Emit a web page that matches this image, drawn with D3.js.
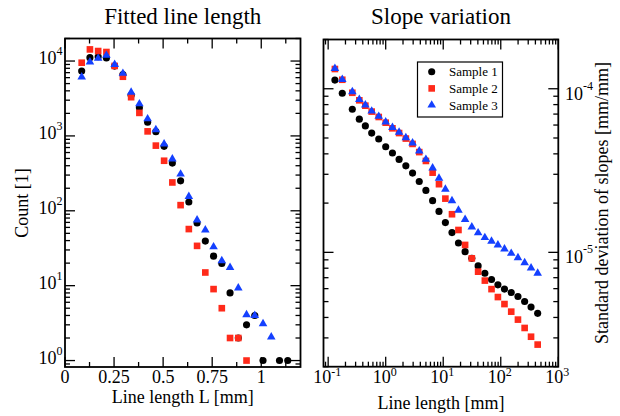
<!DOCTYPE html>
<html>
<head>
<meta charset="utf-8">
<script src="https://cdn.jsdelivr.net/npm/d3@7"></script>
<style>
  body { margin: 0; background: #fff; }
  svg { display: block; font-family: "Liberation Serif", "Times New Roman", serif; }
</style>
</head>
<body>
<svg id="chart" width="620" height="416"></svg>
<script>
/* ===============================
   Data
================================ */

// left panel: fitted line length histogram
const lenBins = [0.085, 0.127, 0.169, 0.211, 0.253, 0.295, 0.337, 0.379, 0.421, 0.463,
                 0.505, 0.547, 0.589, 0.631, 0.673, 0.715, 0.757, 0.799, 0.841, 0.883,
                 0.925, 0.967, 1.009, 1.051, 1.093, 1.135];
const countS1 = [7350, 11100, 11400, 11000, 8570, 6620, 3500, 2370, 1520, 1140,
                 726, 434, 251, 131, 68.7, 39.4, 24.8, 19.8, 8.0, 2.0,
                 3.0, 4.0, 1, null, 1, 1];
const countS2 = [9500, 14300, 13600, 13200, 8600, 6170, 3290, 2030, 1150, 742,
                 466, 239, 119, 57, 34, 15, 9.0, 5.0, 2.0, 2.0, 1.0];
const countS3 = [6110, 9700, 10860, 11900, 9020, 6840, 3840, 2680, 1690, 1210,
                 780, 491, 309, 155, 75.5, 55.5, 33, 21.5, 17.5, 9.3,
                 4.1, 4.0, 3.1, 2.06];

// right panel: slope variation vs line length
const slopeLen = [0.131, 0.176, 0.263, 0.348, 0.443, 0.571, 0.757, 1.0, 1.31, 1.71,
                  2.24, 2.93, 3.83, 5.0, 6.54, 8.44, 10.9, 14.2, 18.4, 24.0,
                  31.4, 40.4, 52.9, 69.1, 89.2, 116, 152, 199, 260, 336, 438];
const slopeS1 = [1.13e-4, 9.38e-5, 7.49e-5, 6.52e-5, 5.93e-5, 5.36e-5, 4.93e-5, 4.42e-5, 4.05e-5, 3.70e-5,
                 3.38e-5, 3.05e-5, 2.71e-5, 2.39e-5, 2.07e-5, 1.78e-5, 1.52e-5, 1.32e-5, 1.14e-5, 1.01e-5,
                 9.19e-6, 8.26e-6, 7.45e-6, 6.82e-6, 6.33e-6, 5.96e-6, 5.68e-6, 5.37e-6, 5.01e-6, 4.63e-6, 4.24e-6];
const slopeS2 = [1.32e-4, 1.135e-4, 9.45e-5, 8.5e-5, 7.88e-5, 7.25e-5, 6.72e-5, 6.2e-5, 5.73e-5, 5.36e-5,
                 4.96e-5, 4.6e-5, 4.1e-5, 3.62e-5, 3.07e-5, 2.61e-5, 2.13e-5, 1.71e-5, 1.37e-5, 1.11e-5,
                 9.19e-6, 7.62e-6, 6.72e-6, 5.96e-6, 5.33e-6, 4.83e-6, 4.34e-6, 3.88e-6, 3.45e-6, 3.05e-6, 2.73e-6];
const slopeS3 = [1.33e-4, 1.14e-4, 9.6e-5, 8.6e-5, 7.95e-5, 7.3e-5, 6.78e-5, 6.27e-5, 5.8e-5, 5.42e-5,
                 5.02e-5, 4.66e-5, 4.17e-5, 3.70e-5, 3.28e-5, 2.84e-5, 2.43e-5, 2.07e-5, 1.81e-5, 1.59e-5,
                 1.43e-5, 1.315e-5, 1.23e-5, 1.17e-5, 1.11e-5, 1.047e-5, 9.86e-6, 9.27e-6, 8.65e-6, 8.03e-6, 7.45e-6];

const seriesNames = ["Sample 1", "Sample 2", "Sample 3"];
const lenTicks = [0, 0.25, 0.5, 0.75, 1];
const lenTickLabels = ["0", "0.25", "0.5", "0.75", "1"];
const lenMinor = [0.125, 0.375, 0.625, 0.875, 1.125];

/* ===============================
   Style
================================ */

const COLORS = ["#000000", "#ff2a1a", "#1440ff"];
const SHAPES = [d3.symbolCircle, d3.symbolSquare, d3.symbolTriangle];
const SIZES = [40, 44, 32];

const svg = d3.select("#chart");

/* ===============================
   Helpers
================================ */

function logMinor(lo, hi) {
  const out = [];
  for (let e = Math.floor(Math.log10(lo)); e <= Math.ceil(Math.log10(hi)); e++) {
    for (let m = 2; m <= 9; m++) {
      const v = m * Math.pow(10, e);
      if (v >= lo * 0.999 && v <= hi * 1.001) out.push(v);
    }
  }
  return out;
}

function frameTicks(g, x, y, xMajor, xMinor, yMajor, yMinor) {
  const [x0, x1] = x.range();
  const [y0, y1] = y.range(); // y0 bottom, y1 top
  const add = (vals, len, vertical) => {
    vals.forEach(v => {
      if (vertical) {
        const px = x(v);
        g.append("line").attr("x1", px).attr("x2", px).attr("y1", y0).attr("y2", y0 - len);
        g.append("line").attr("x1", px).attr("x2", px).attr("y1", y1).attr("y2", y1 + len);
      } else {
        const py = y(v);
        g.append("line").attr("y1", py).attr("y2", py).attr("x1", x0).attr("x2", x0 + len);
        g.append("line").attr("y1", py).attr("y2", py).attr("x1", x1).attr("x2", x1 - len);
      }
    });
  };
  add(xMajor, 10, true);
  add(xMinor, 5, true);
  add(yMajor, 10, false);
  add(yMinor, 5, false);
  g.selectAll("line").attr("stroke", "#000").attr("stroke-width", 1.3);
  g.append("rect")
    .attr("x", x0).attr("y", y1)
    .attr("width", x1 - x0).attr("height", y0 - y1)
    .attr("fill", "none").attr("stroke", "#000").attr("stroke-width", 1.8);
}

function powLabel(g, px, py, exp, anchor, supDy) {
  const t = g.append("text")
    .attr("x", px).attr("y", py)
    .attr("text-anchor", anchor)
    .attr("font-size", 18);
  t.append("tspan").text("10");
  t.append("tspan").attr("font-size", 12).attr("dy", supDy).text(exp);
}

function drawSeries(g, x, y, xs, ys, i) {
  const pts = xs.map((v, k) => [v, ys[k]]).filter(d => d[1] != null && d[1] !== undefined);
  g.selectAll(null)
    .data(pts)
    .enter()
    .append("path")
    .attr("d", d3.symbol().type(SHAPES[i]).size(SIZES[i]))
    .attr("transform", d => `translate(${x(d[0])},${y(d[1])})`)
    .attr("fill", COLORS[i]);
}

/* ===============================
   Left panel
================================ */

const xL = d3.scaleLinear().domain([0, 1.2]).range([65, 300.5]);
const yL = d3.scaleLog().domain([0.82, 2e4]).range([367, 38.5]);

const left = svg.append("g");
frameTicks(left, xL, yL, lenTicks, lenMinor,
  [1, 10, 100, 1000, 10000], logMinor(0.82, 2e4));

drawSeries(left, xL, yL, lenBins, countS1, 0);
drawSeries(left, xL, yL, lenBins, countS2, 1);
drawSeries(left, xL, yL, lenBins, countS3, 2);

lenTicks.forEach((v, k) => {
  left.append("text")
    .attr("x", xL(v)).attr("y", 382.5)
    .attr("text-anchor", "middle").attr("font-size", 18)
    .text(lenTickLabels[k]);
});
[0, 1, 2, 3, 4].forEach(e => powLabel(left, 62.5, yL(Math.pow(10, e)) + 3, String(e), "end", -9));

left.append("text")
  .attr("x", (65 + 300.5) / 2).attr("y", 24)
  .attr("text-anchor", "middle").attr("font-size", 23)
  .text("Fitted line length");
left.append("text")
  .attr("x", (65 + 300.5) / 2).attr("y", 403)
  .attr("text-anchor", "middle").attr("font-size", 18)
  .text("Line length L [mm]");
left.append("text")
  .attr("transform", "translate(28,203) rotate(-90)")
  .attr("text-anchor", "middle").attr("font-size", 18)
  .text("Count [1]");

/* ===============================
   Right panel
================================ */

const xR = d3.scaleLog().domain([0.083, 1000]).range([323.5, 558.3]);
const yR = d3.scaleLog().domain([2e-6, 2e-4]).range([366.7, 39.5]);

const right = svg.append("g");
frameTicks(right, xR, yR, [0.1, 1, 10, 100, 1000], logMinor(0.083, 1000),
  [1e-5, 1e-4], logMinor(2e-6, 2e-4));

drawSeries(right, xR, yR, slopeLen, slopeS1, 0);
drawSeries(right, xR, yR, slopeLen, slopeS2, 1);
drawSeries(right, xR, yR, slopeLen, slopeS3, 2);

[-1, 0, 1, 2, 3].forEach(e => powLabel(right, xR(Math.pow(10, e)) - 1, 382.5, String(e), "middle", -7));
[-5, -4].forEach(e => powLabel(right, 565, yR(Math.pow(10, e)) + 11, String(e), "start", -10));

right.append("text")
  .attr("x", 441).attr("y", 24)
  .attr("text-anchor", "middle").attr("font-size", 23)
  .text("Slope variation");
right.append("text")
  .attr("x", 441).attr("y", 409)
  .attr("text-anchor", "middle").attr("font-size", 18)
  .text("Line length [mm]");
right.append("text")
  .attr("transform", "translate(608,203) rotate(-90)")
  .attr("text-anchor", "middle").attr("font-size", 18)
  .text("Standard deviation of slopes [mm/mm]");

/* ===============================
   Legend
================================ */

const legend = right.append("g");
legend.append("rect")
  .attr("x", 417.5).attr("y", 62)
  .attr("width", 85).attr("height", 55)
  .attr("fill", "#fff").attr("stroke", "#000").attr("stroke-width", 1.2);

seriesNames.forEach((name, i) => {
  const cy = 71.7 + i * 16.7;
  legend.append("path")
    .attr("d", d3.symbol().type(SHAPES[i]).size(SIZES[i]))
    .attr("transform", `translate(431.7,${cy})`)
    .attr("fill", COLORS[i]);
  legend.append("text")
    .attr("x", 449).attr("y", cy + 4.5)
    .attr("font-size", 13)
    .text(name);
});
</script>
</body>
</html>
